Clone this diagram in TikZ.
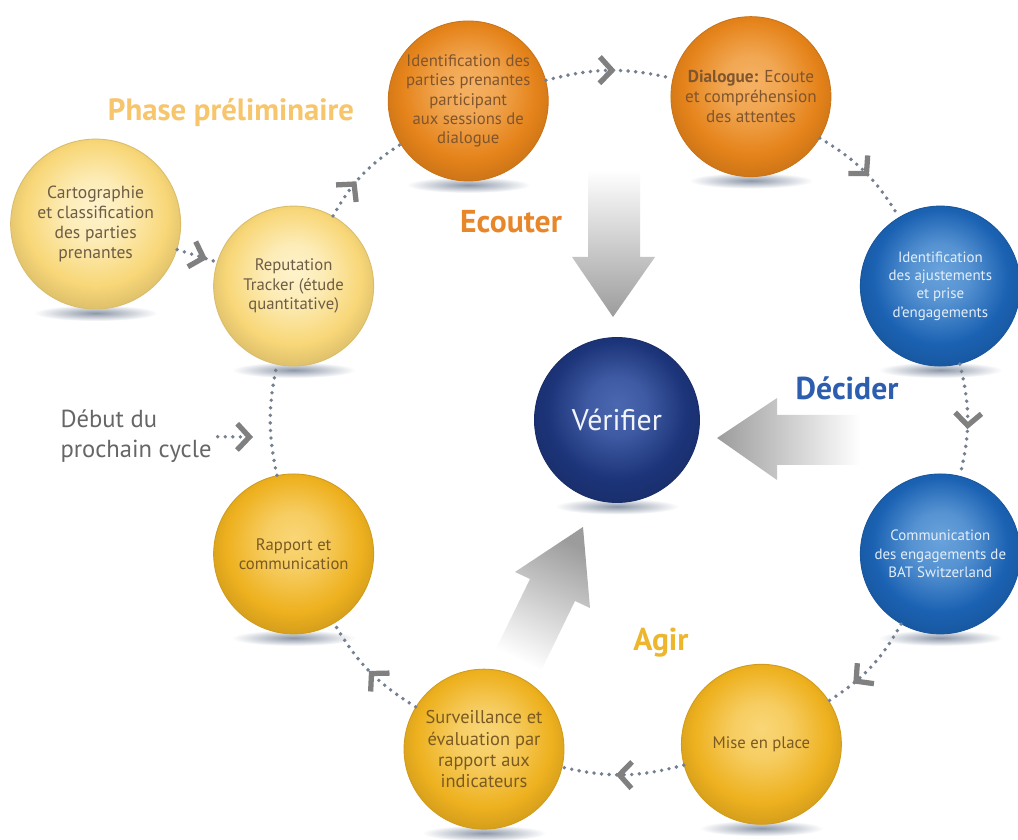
\documentclass[tikz,border=0pt]{standalone}
\usepackage{fontspec}
\setmainfont{PT Sans}
\usetikzlibrary{calc,arrows.meta,decorations.markings,backgrounds}

\definecolor{orangein}{HTML}{F5B264}
\definecolor{orangeout}{HTML}{E5831A}
\definecolor{orangetext}{HTML}{80552E}
\definecolor{bluein}{HTML}{6AA3DC}
\definecolor{blueout}{HTML}{1B62B3}
\definecolor{bluetext}{HTML}{E3EEF8}
\definecolor{goldin}{HTML}{F9D677}
\definecolor{goldout}{HTML}{EEB11F}
\definecolor{goldtext}{HTML}{7A5A22}
\definecolor{palein}{HTML}{FEF3CC}
\definecolor{paleout}{HTML}{F8D778}
\definecolor{paletext}{HTML}{6E5D45}
\definecolor{navyin}{HTML}{4A67B0}
\definecolor{navyout}{HTML}{1C3479}
\definecolor{navytext}{HTML}{F2F4FA}
\definecolor{dotgray}{HTML}{74808F}
\definecolor{chevgray}{HTML}{808080}
\definecolor{arrowgray}{HTML}{9C9C9C}
\definecolor{shadowgray}{HTML}{8C97A8}
\definecolor{phasecol}{HTML}{F7C56B}
\definecolor{listencol}{HTML}{E8872A}
\definecolor{decidecol}{HTML}{2C5DAE}
\definecolor{actcol}{HTML}{EDB62C}
\definecolor{restartgray}{HTML}{666666}

% glossy disc shading, colours set per node
\colorlet{orbin}{white}
\colorlet{orbout}{gray}
\pgfdeclareradialshading[orbin,orbout]{orb}{\pgfpoint{0bp}{5bp}}{%
  color(0bp)=(orbin); color(9bp)=(orbin!75!orbout); color(21bp)=(orbout);
  color(30bp)=(orbout!85!black); color(50bp)=(orbout!85!black)}

\newcommand{\circfont}{\fontsize{9.5}{11}\selectfont}

\tikzset{chev/.tip={Straight Barb[length=7pt,width=15pt,line width=3pt,color=chevgray]}}

\begin{document}
\begin{tikzpicture}[x=0.02cm, y=0.02cm,
  orb/.style 2 args={circle, minimum size=3.2cm, inner sep=0pt, align=center, font=\circfont,
    /utils/exec={\colorlet{orbin}{#1}\colorlet{orbout}{#2}}, shade, shading=orb,
    draw=#2!88!black, line width=0.5pt},
  orangeorb/.style={orb={orangein}{orangeout}, text=orangetext},
  blueorb/.style={orb={bluein}{blueout}, text=bluetext, font=\fontsize{8.5}{10.5}\selectfont},
  goldorb/.style={orb={goldin}{goldout}, text=goldtext},
  paleorb/.style={orb={palein}{paleout}, text=paletext},
  navyorb/.style={orb={navyin}{navyout}, text=navytext},
  ring/.style={draw=dotgray, line width=2.2pt, line cap=round, dash pattern=on 0pt off 4.3pt},
  link/.style={ring, postaction={decorate,
    decoration={markings, mark=at position #1 with {\arrow{chev}}}}},
  stage/.style={font=\bfseries\fontsize{18}{21}\selectfont}]

\useasboundingbox (0,0) rectangle (1018,839);

% centre
\node[navyorb, minimum size=3.3cm, font=\fontsize{17}{20}\selectfont] (verif) at (617,419) {Vérifier};

% the cycle, clockwise from the top
\node[orangeorb] (stakeid) at ($(verif)+(115:352)$) {Identification des\\parties prenantes\\participant\\aux sessions de\\dialogue};
\node[orangeorb, font=\fontsize{9.8}{11.5}\selectfont] (dialog) at ($(verif)+(67.5:350)$) {\textbf{Dialogue:} Ecoute\\et compréhension\\des attentes};
\node[blueorb] (adjust) at ($(verif)+(22.5:350)$) {Identification\\des ajustements\\et prise\\d'engagements};
\node[blueorb] (commit) at ($(verif)+(-22.5:350)$) {Communication\\des engagements de\\BAT Switzerland};
\node[goldorb] (rollout) at ($(verif)+(-66:355)$) {Mise en place};
\node[goldorb, font=\fontsize{10.5}{12}\selectfont] (monitor) at ($(verif)+(-112:355)$) {Surveillance et\\évaluation par\\rapport aux\\indicateurs};
\node[goldorb] (report) at ($(verif)+(-157.5:350)$) {Rapport et\\communication};
\node[paleorb] (reptrack) at ($(verif)+(157.5:350)$) {Reputation\\Tracker (étude\\quantitative)};
\node[paleorb, minimum size=3.4cm, font=\fontsize{10}{11.5}\selectfont] (carto) at ($(reptrack)+(-198,62)$) {Cartographie\\et classification\\des parties\\prenantes};

% phase titles
\node[stage, text=phasecol, font=\bfseries\fontsize{17.5}{21}\selectfont] (phase) at (231,726) {Phase préliminaire};
\node[stage, text=listencol] (listen) at (511,617) {Ecouter};
\node[stage, text=decidecol] (decide) at (847,451) {Décider};
\node[stage, text=actcol] (act) at (661,196) {Agir};
\node[font=\fontsize{14}{17}\selectfont, text=restartgray, align=left] (restartlbl) at (136,403) {Début du\\prochain cycle};
\coordinate (restart) at (253,402);

% big arrows into the centre
\shade[top color=white, bottom color=arrowgray]
  (588,669) -- (640,669) -- (640,582) -- (655,582) -- (613,522) -- (572,582) -- (588,582) -- cycle;
\shade[left color=arrowgray, right color=white]
  (860,424) -- (777,424) -- (777,441) -- (717,401) -- (777,359) -- (777,374) -- (860,374) -- cycle;
\shade[top color=arrowgray, bottom color=white, shading angle=-26]
  (495,188) -- (530,260) -- (515,267) -- (583,312) -- (590,231) -- (575,238) -- (540,166) -- cycle;

% dotted links
\draw[link=0.42] (reptrack) to[bend left=14] (stakeid);
\draw[link=0.55] (stakeid) to[bend left=14] (dialog);
\draw[link=0.55] (dialog) to[bend left=14] (adjust);
\draw[link=0.58] (adjust) to[bend left=14] (commit);
\draw[link=0.72] (commit) to[bend left=14] (rollout);
\draw[link=0.56] (rollout) to[bend left=14] (monitor);
\draw[link=0.5] (monitor) to[bend left=14] (report);
\draw[ring] (report) to[bend left=12] (reptrack);
\draw[link=0.75] (carto) -- (reptrack);
\draw[link=1] (restartlbl) -- (restart);

% soft shadows under the discs
\begin{pgfonlayer}{background}
  \fill[white] (0,0) rectangle (1018,839);
  \foreach \n in {stakeid,dialog,adjust,commit,rollout,monitor,report,reptrack,carto,verif}
    \shade[inner color=shadowgray, outer color=white] ([yshift=-2pt]\n.south) ellipse (62 and 8);
\end{pgfonlayer}
\end{tikzpicture}
\end{document}
